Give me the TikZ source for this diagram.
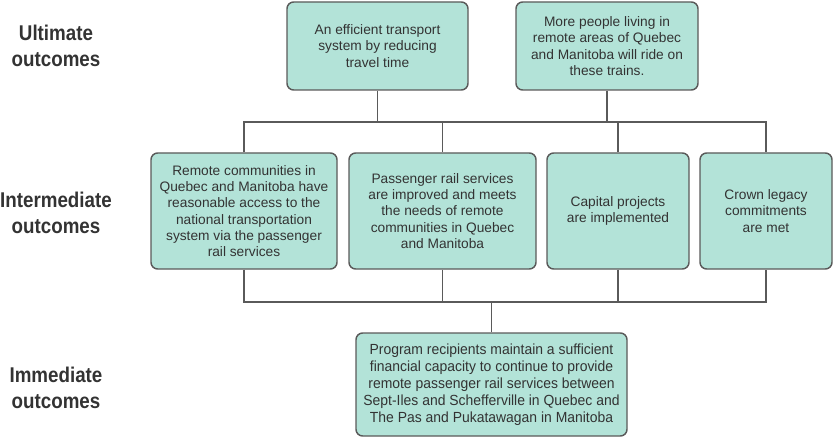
\documentclass[tikz,border=0pt]{standalone}
\usepackage{fontspec}
\setmainfont{Liberation Sans}
\newfontfamily\condfont[FakeStretch=0.88]{Liberation Sans}
\newfontfamily\narrowfont[FakeStretch=0.95]{Liberation Sans}
\usetikzlibrary{positioning}

\definecolor{boxfill}{HTML}{B3E3D8}
\definecolor{boxline}{HTML}{5A5A5A}
\definecolor{txt}{HTML}{333333}

\tikzset{
    outcome/.style = {draw=boxline, fill=boxfill, rounded corners=5pt, line width=1.1pt,
        align=center, text=txt, inner sep=2pt,
        font=\fontsize{10.3}{12.2}\selectfont},
    level/.style = {align=center, text=txt, font=\condfont\bfseries\fontsize{16}{20}\selectfont},
    link/.style = {draw=boxline, line width=1.3pt}
}

\begin{document}
\begin{tikzpicture}[x=0.75pt,y=-0.75pt]
    \useasboundingbox (0,0) rectangle (834,438);

    % row labels
    \node [level] (ult) at (56,46) {Ultimate\\outcomes};
    \node [level] (int) at (56,213) {Intermediate\\outcomes};
    \node [level] (imm) at (56,388) {Immediate\\outcomes};

    % ultimate outcomes
    \node [outcome, minimum width=181*0.75pt, minimum height=88*0.75pt] (u1) at (377.5,46)
        {An efficient transport\\system by reducing\\travel time};
    \node [outcome, minimum width=182*0.75pt, minimum height=88*0.75pt] (u2) at (607,46)
        {More people living in\\remote areas of Quebec\\and Manitoba will ride on\\these trains.};

    % intermediate outcomes
    \node [outcome, minimum width=186*0.75pt, minimum height=116*0.75pt] (m1) at (244,211)
        {Remote communities in\\Quebec and Manitoba have\\reasonable access to the\\national transportation\\system via the passenger\\rail services};
    \node [outcome, minimum width=187*0.75pt, minimum height=116*0.75pt] (m2) at (442.5,211)
        {Passenger rail services\\are improved and meets\\the needs of remote\\communities in Quebec\\and Manitoba};
    \node [outcome, minimum width=142*0.75pt, minimum height=116*0.75pt] (m3) at (618,211)
        {Capital projects\\are implemented};
    \node [outcome, minimum width=132*0.75pt, minimum height=116*0.75pt] (m4) at (766,211)
        {Crown legacy\\commitments\\are met};

    % immediate outcome
    \node [outcome, minimum width=271*0.75pt, minimum height=103*0.75pt,
        font=\narrowfont\fontsize{11}{12.8}\selectfont] (b) at (491.5,384.5)
        {Program recipients maintain a sufficient\\financial capacity to continue to provide\\remote passenger rail services between\\Sept-Iles and Schefferville in Quebec and\\The Pas and Pukatawagan in Manitoba};

    % connectors
    \coordinate (topbar) at (0,122);
    \coordinate (lowbar) at (0,302);
    \draw [link] (m1.north) |- (u1.south |- topbar) -- (u1.south);
    \draw [link] (u1.south |- topbar) -| (m4.north);
    \draw [link] (m2.north) -- (m2.north |- topbar);
    \draw [link] (m3.north) -- (m3.north |- topbar);
    \draw [link] (u2.south) -- (u2.south |- topbar);
    \draw [link] (m1.south) |- (m4.south |- lowbar) -- (m4.south);
    \draw [link] (m2.south) -- (m2.south |- lowbar);
    \draw [link] (m3.south) -- (m3.south |- lowbar);
    \draw [link] (b.north) -- (b.north |- lowbar);
\end{tikzpicture}
\end{document}
